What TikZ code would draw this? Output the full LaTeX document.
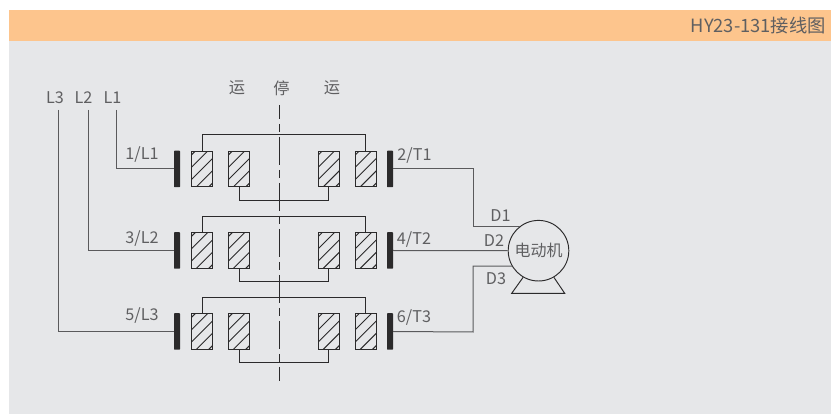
\documentclass[tikz,border=0pt]{standalone}
\usepackage{fontspec}
\setmainfont{Noto Sans CJK SC}[Scale=1]
\definecolor{bandc}{HTML}{FDC58D}
\definecolor{panelc}{HTML}{E6E7E9}
\definecolor{wirec}{HTML}{5A5A5C}
\definecolor{inkc}{HTML}{2B2A2B}
\definecolor{textc}{HTML}{5F5F61}
\tikzset{
  x=1pt,y=-1pt,
  lbl/.style={inner sep=0pt,text=textc,font=\fontsize{16.2}{18}\selectfont},
  wire/.style={draw=wirec,line width=1pt},
  brk/.style={draw=inkc,line width=.95pt},
  contact/.style={fill=inkc,draw=none,minimum width=6pt,minimum height=36.5pt,inner sep=0pt,rounded corners=.6pt},
  coil/.style={draw=inkc,line width=.95pt,minimum width=21.5pt,minimum height=35.5pt,inner sep=0pt,
    path picture={
      \foreach \k in {-4,...,4}{
        \draw[inkc,line width=.95pt] ([xshift=\k*12.3pt]path picture bounding box.center)
          +(-24,24) -- +(24,-24);
      }}},
}
\begin{document}
\begin{tikzpicture}
\useasboundingbox (0,0) rectangle (831,414);
\fill[white] (0,0) rectangle (831,414);
\fill[panelc] (9,41) rectangle (831,414);
\fill[bandc] (9,10) rectangle (831,41);
\node[lbl,anchor=east,font=\fontsize{18.3}{20}\selectfont] (title) at (826,26) {HY23-131接线图};
% supply labels
\node[lbl] (L3) at (55,97.5) {L3};
\node[lbl] (L2) at (83.5,97.5) {L2};
\node[lbl] (L1) at (112.5,97.5) {L1};
\node[lbl] (r1) at (237,88) {运};
\node[lbl] (s) at (281.5,88) {停};
\node[lbl] (r2) at (332,88) {运};
\coordinate (axistop) at (279,105);
\coordinate (axisbot) at (279,381);
\coordinate (t1) at (58,110);
\coordinate (t2) at (88,110);
\coordinate (t3) at (116,110);
% rows
\foreach \r/\y in {1/169,2/250.5,3/331.5}{
  \node[contact] (li\r) at (177,\y) {};
  \node[contact] (ri\r) at (390,\y) {};
  \node[coil] (a\r) at (202,\y) {};
  \node[coil] (b\r) at (239,\y) {};
  \node[coil] (c\r) at (328.8,\y) {};
  \node[coil] (d\r) at (365.8,\y) {};
  \draw[brk] (a\r.north) -- ++(0,-16) -| (d\r.north);
  \draw[brk] (b\r.south) -- ++(0,13.2) -| (c\r.south);
}
\draw[inkc,line width=.9pt,dash pattern=on 28pt off 5pt on 8pt off 5pt,dash phase=14pt] (axistop) -- (axisbot);
% terminal labels
\node[lbl] (n1) at (142,155) {1/L1};
\node[lbl] (n3) at (142,239) {3/L2};
\node[lbl] (n5) at (142,316) {5/L3};
\node[lbl] (n2) at (414.5,156) {2/T1};
\node[lbl] (n4) at (414,240) {4/T2};
\node[lbl] (n6) at (414,318) {6/T3};
% input wires
\draw[wire] (t3) |- (li1.west);
\draw[wire] (t2) |- (li2.west);
\draw[wire] (t1) |- (li3.west);
% motor
\node[circle,draw=inkc,line width=.95pt,minimum size=60.6pt,inner sep=0pt,lbl,font=\fontsize{16}{18}\selectfont] (m) at (538.5,250.7) {电动机};
\coordinate (b1) at (511.7,293.3);
\coordinate (b2) at (564.7,293.3);
\draw[brk] (m.240) -- (b1) -- (b2) -- (m.300);
% output wires
\coordinate (k1) at (473,169);
\coordinate (k3) at (473,332);
\draw[wire] (ri1.east) -- (k1) |- (m.127);
\draw[wire] (ri2.east) -- (m.west);
\draw[wire] (ri3.east) -- (k3) |- (m.210);
\node[lbl] (d1) at (500.5,216) {D1};
\node[lbl] (d2) at (494,240.5) {D2};
\node[lbl] (d3) at (496,278.5) {D3};
\end{tikzpicture}
\end{document}
